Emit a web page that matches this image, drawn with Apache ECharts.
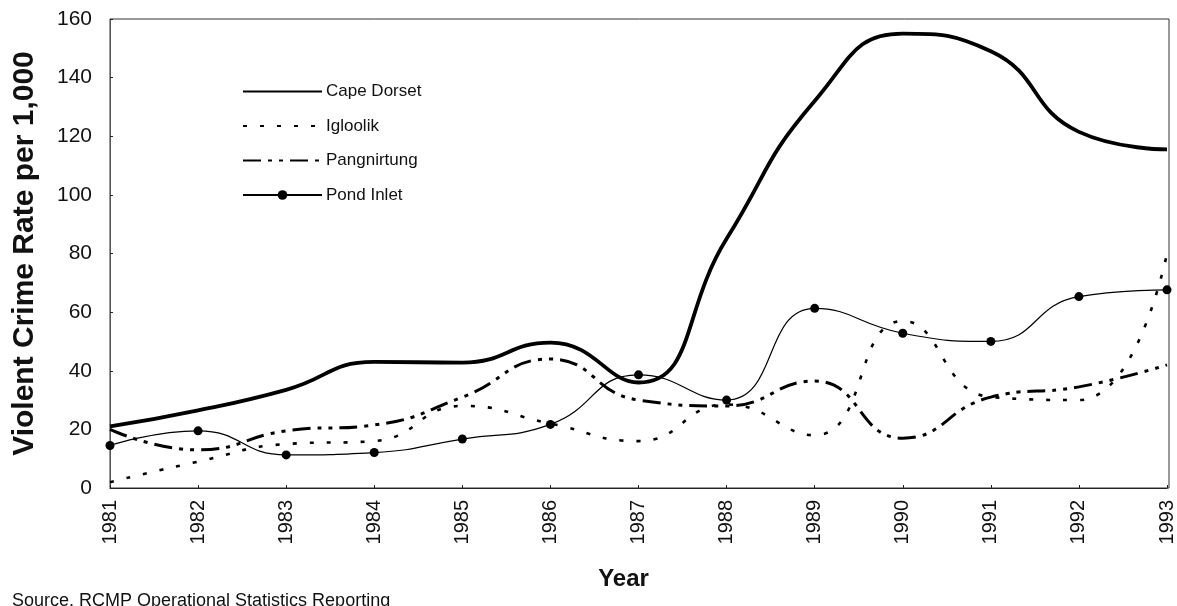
<!DOCTYPE html>
<html>
<head>
<meta charset="utf-8">
<title>Violent Crime Rate per 1,000</title>
<script src="https://cdn.jsdelivr.net/npm/echarts@6/dist/echarts.min.js"></script>
<style>
  html, body { margin: 0; padding: 0; background: #fff; }
  #chart { width: 1177px; height: 606px; }
</style>
</head>
<body>
<div id="chart"></div>
<script>
// values
const years = ["1981", "1982", "1983", "1984", "1985", "1986", "1987",
  "1988", "1989", "1990", "1991", "1992", "1993"];
const capeDorset = [21, 26.5, 33.5, 43, 42.8, 49.6, 36, 85, 132, 155, 149, 121.5, 115.5];
const igloolik = [2, 9, 15, 16, 28, 22, 16, 28.5, 18, 57, 31, 30, 80];
const pangnirtung = [20, 13, 19.5, 21.5, 31, 44, 30, 28, 36.5, 17, 31, 34.5, 42];
const pondInlet = [14.5, 19.5, 11.3, 12.1, 16.7, 21.7, 38.6, 30, 61.3, 52.8, 50, 65.3, 67.6];

const font = "Liberation Sans, Arial, sans-serif";
// legend entries without a marker (line sample only)
const noMarker = { color: "rgba(0,0,0,0)", borderWidth: 0 };

const chart = echarts.init(document.getElementById("chart"));

chart.setOption({
  backgroundColor: "#fff",
  animation: false,
  title: {
    text: "Source. RCMP Operational Statistics Reporting",
    left: 7,
    top: 587,
    textStyle: { fontFamily: font, fontSize: 18, fontWeight: "normal", color: "#111" }
  },
  legend: {
    orient: "vertical",
    left: 237,
    top: 78,
    itemWidth: 79,
    itemHeight: 12,
    itemGap: 17.5,
    textStyle: { fontFamily: font, fontSize: 17, color: "#111", padding: [0, 0, 0, -1] },
    data: [
      { name: "Cape Dorset", itemStyle: noMarker },
      { name: "Igloolik", itemStyle: noMarker },
      { name: "Pangnirtung", itemStyle: noMarker },
      { name: "Pond Inlet" }
    ]
  },
  grid: { left: 110, right: 8, top: 19, bottom: 118 },
  xAxis: {
    type: "category",
    data: years,
    boundaryGap: false,
    name: "Year",
    nameLocation: "middle",
    nameGap: 79,
    nameTextStyle: { fontFamily: font, fontSize: 24, fontWeight: "bold", color: "#111", padding: [0, 30, 0, 0] },
    axisLine: { lineStyle: { color: "#222", width: 1 } },
    axisTick: { show: true, inside: true, length: 3, lineStyle: { color: "#222" } },
    axisLabel: { rotate: 90, margin: 12, fontFamily: font, fontSize: 20, color: "#111" },
    splitLine: { show: false }
  },
  yAxis: {
    type: "value",
    min: 0,
    max: 160,
    interval: 20,
    name: "Violent Crime Rate per 1,000",
    nameLocation: "middle",
    nameGap: 70,
    nameTextStyle: { fontFamily: font, fontSize: 30, fontWeight: "bold", color: "#111" },
    axisLine: { show: true, lineStyle: { color: "#555", width: 1 } },
    axisTick: { show: true, inside: true, length: 3, lineStyle: { color: "#222" } },
    axisLabel: { margin: 18, fontFamily: font, fontSize: 21, color: "#111" },
    splitLine: { show: false }
  },
  graphic: [{
    type: "rect",
    shape: { x: 110, y: 19, width: 1059, height: 469 },
    style: { fill: "none", stroke: "#333", lineWidth: 1 },
    silent: true
  }],
  series: [
    {
      name: "Cape Dorset",
      type: "line",
      data: capeDorset,
      smooth: 0.5,
      symbol: "none",
      lineStyle: { color: "#000", width: 3.8 },
      itemStyle: { color: "#000" }
    },
    {
      name: "Igloolik",
      type: "line",
      data: igloolik,
      smooth: 0.5,
      symbol: "none",
      lineStyle: { color: "#000", width: 2.6, type: [4, 13] },
      itemStyle: { color: "#000" }
    },
    {
      name: "Pangnirtung",
      type: "line",
      data: pangnirtung,
      smooth: 0.5,
      symbol: "none",
      lineStyle: { color: "#000", width: 3, type: [18, 7, 4, 7, 4, 7] },
      itemStyle: { color: "#000" }
    },
    {
      name: "Pond Inlet",
      type: "line",
      data: pondInlet,
      smooth: 0.5,
      symbol: "circle",
      symbolSize: 9,
      lineStyle: { color: "#000", width: 1.2 },
      itemStyle: { color: "#000" }
    }
  ]
});
</script>
</body>
</html>
